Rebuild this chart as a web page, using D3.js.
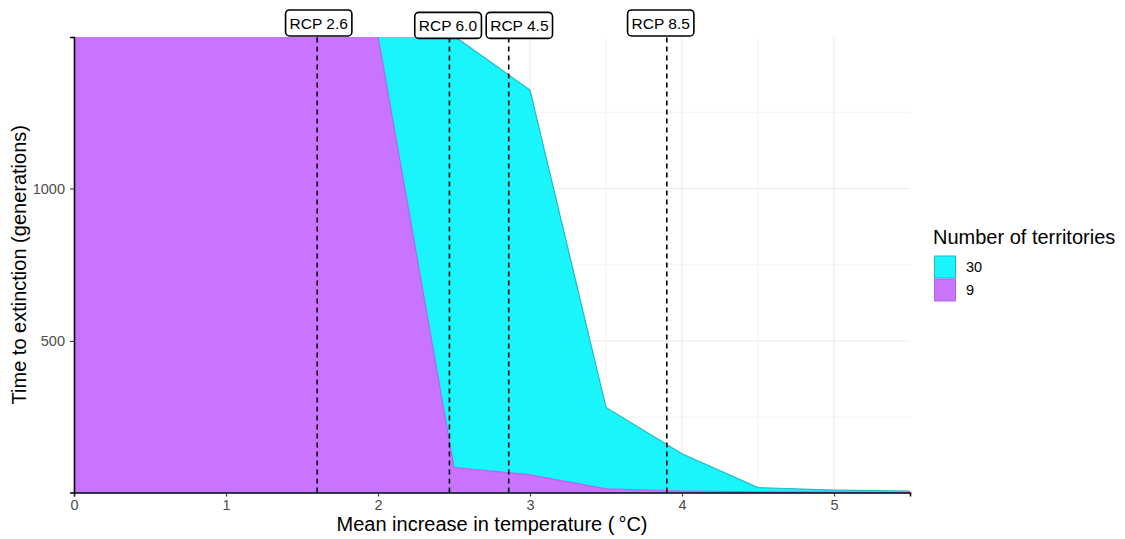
<!DOCTYPE html>
<html>
<head>
<meta charset="utf-8">
<script src="https://cdn.jsdelivr.net/npm/d3@7"></script>
<style>
  body { margin: 0; background: #fff; }
  svg { display: block; font-family: "Liberation Sans", Arial, sans-serif; }
</style>
</head>
<body>
<div id="chart"></div>
<script>
// temperature steps (°C)
var temps = [0, 0.5, 1, 1.5, 2, 2.5, 3, 3.5, 4, 4.5, 5, 5.5];
// time to extinction (generations), values above the panel top are clipped
var ext30 = [1500, 1500, 1500, 1500, 1500, 1500, 1323, 282, 130, 19, 11, 8];
var ext9 = [1500, 1500, 1500, 1500, 1500, 85, 61, 15, 8, 5, 4, 3];
var seriesNames = ['30', '9'];

// RCP scenario markers
var rcpNames = ['RCP 2.6', 'RCP 6.0', 'RCP 4.5', 'RCP 8.5'];
var rcpTemps = [1.6, 2.47, 2.86, 3.9];
var rcpLabelX = [1.61, 2.46, 2.93, 3.86];
var rcpLabelY = [1543, 1535, 1535, 1543];

var xTicks = [0, 1, 2, 3, 4, 5];
var yTicks = [500, 1000];

(function () {
  var width = 1125, height = 539;
  var margin = { left: 74, right: 215, top: 37, bottom: 46.5 };
  var font = '"Liberation Sans", Arial, sans-serif';

  var colors = { '30': '#19f5fa', '9': '#c874fe' };
  var strokes = { '30': '#25b9c4', '9': '#b266ee' };

  var svg = d3.select('#chart').append('svg')
    .attr('width', width)
    .attr('height', height);

  var x = d3.scaleLinear().domain([0, 5.5]).range([margin.left, width - margin.right]);
  var y = d3.scaleLinear().domain([3, 1497]).range([height - margin.bottom, margin.top]);

  // grid
  var grid = svg.append('g');
  d3.range(0.5, 5.5, 0.5).forEach(function (v) {
    grid.append('line')
      .attr('x1', x(v)).attr('x2', x(v))
      .attr('y1', y.range()[0]).attr('y2', y.range()[1])
      .attr('stroke', '#ebebeb').attr('stroke-width', v % 1 === 0 ? 1.1 : 0.6);
  });
  [250, 500, 750, 1000, 1250].forEach(function (v) {
    grid.append('line')
      .attr('x1', x.range()[0]).attr('x2', x.range()[1])
      .attr('y1', y(v)).attr('y2', y(v))
      .attr('stroke', '#ebebeb').attr('stroke-width', v % 500 === 0 ? 1.1 : 0.6);
  });

  svg.append('clipPath').attr('id', 'panel')
    .append('rect')
    .attr('x', x.range()[0]).attr('y', y.range()[1])
    .attr('width', x.range()[1] - x.range()[0])
    .attr('height', y.range()[0] - y.range()[1]);

  var area = d3.area()
    .x(function (d) { return x(d[0]); })
    .y0(y.range()[0] + 2)
    .y1(function (d) { return y(d[1]); });
  var line = d3.line()
    .x(function (d) { return x(d[0]); })
    .y(function (d) { return y(d[1]); });

  var plot = svg.append('g').attr('clip-path', 'url(#panel)');
  [ext30, ext9].forEach(function (vals, i) {
    var name = seriesNames[i];
    var pts = temps.map(function (t, j) { return [t, vals[j]]; });
    plot.append('path')
      .attr('d', area(pts))
      .attr('fill', colors[name]);
    plot.append('path')
      .attr('d', line(pts))
      .attr('fill', 'none')
      .attr('stroke', strokes[name])
      .attr('stroke-width', 1.2);
  });

  // RCP dashed lines
  rcpTemps.forEach(function (t) {
    svg.append('line')
      .attr('x1', x(t)).attr('x2', x(t))
      .attr('y1', y.range()[0]).attr('y2', y.range()[1])
      .attr('stroke', '#000').attr('stroke-width', 1.6)
      .attr('stroke-dasharray', '5,4');
  });

  // axes
  var xAxis = svg.append('g')
    .attr('transform', 'translate(0,' + y.range()[0] + ')')
    .call(d3.axisBottom(x).tickValues(xTicks).tickFormat(d3.format('d')).tickSize(4).tickPadding(3));
  var yAxis = svg.append('g')
    .attr('transform', 'translate(' + x.range()[0] + ',0)')
    .call(d3.axisLeft(y).tickValues(yTicks).tickFormat(d3.format('d')).tickSize(4).tickPadding(5));
  [xAxis, yAxis].forEach(function (a) {
    a.select('.domain').attr('stroke', '#000').attr('stroke-width', 1.6);
    a.selectAll('.tick line').attr('stroke', '#333').attr('stroke-width', 1.1);
    a.selectAll('.tick text').attr('fill', '#4d4d4d')
      .style('font-size', '14.5px').style('font-family', font);
  });

  // RCP labels
  rcpNames.forEach(function (name, i) {
    var g = svg.append('g');
    var cy = y(rcpLabelY[i]);
    var txt = g.append('text')
      .attr('x', x(rcpLabelX[i]))
      .attr('y', cy)
      .attr('dy', '0.36em')
      .attr('text-anchor', 'middle')
      .style('font-size', '15.5px')
      .attr('fill', '#000')
      .text(name);
    var bb = txt.node().getBBox();
    g.insert('rect', 'text')
      .attr('x', bb.x - 4).attr('y', cy - 13)
      .attr('width', bb.width + 8).attr('height', 26)
      .attr('rx', 4).attr('ry', 4)
      .attr('fill', '#fff').attr('stroke', '#000').attr('stroke-width', 1.6);
  });

  // axis titles
  svg.append('text')
    .attr('x', (x.range()[0] + x.range()[1]) / 2)
    .attr('y', 531)
    .attr('text-anchor', 'middle')
    .style('font-size', '20px')
    .text('Mean increase in temperature (\u2009°C)');
  svg.append('text')
    .attr('transform', 'translate(26,' + ((y.range()[0] + y.range()[1]) / 2) + ') rotate(-90)')
    .attr('text-anchor', 'middle')
    .style('font-size', '20px')
    .text('Time to extinction (generations)');

  // legend
  var legend = svg.append('g').attr('transform', 'translate(933,0)');
  legend.append('text')
    .attr('x', 0).attr('y', 244)
    .style('font-size', '20px')
    .text('Number of territories');
  seriesNames.forEach(function (name, i) {
    legend.append('rect')
      .attr('x', 1.5).attr('y', 256 + i * 23)
      .attr('width', 21).attr('height', 22)
      .attr('fill', colors[name])
      .attr('stroke', strokes[name]).attr('stroke-width', 1);
    legend.append('text')
      .attr('x', 33).attr('y', 267 + i * 23)
      .attr('dy', '0.36em')
      .style('font-size', '14.5px')
      .text(name);
  });
})();
</script>
</body>
</html>
